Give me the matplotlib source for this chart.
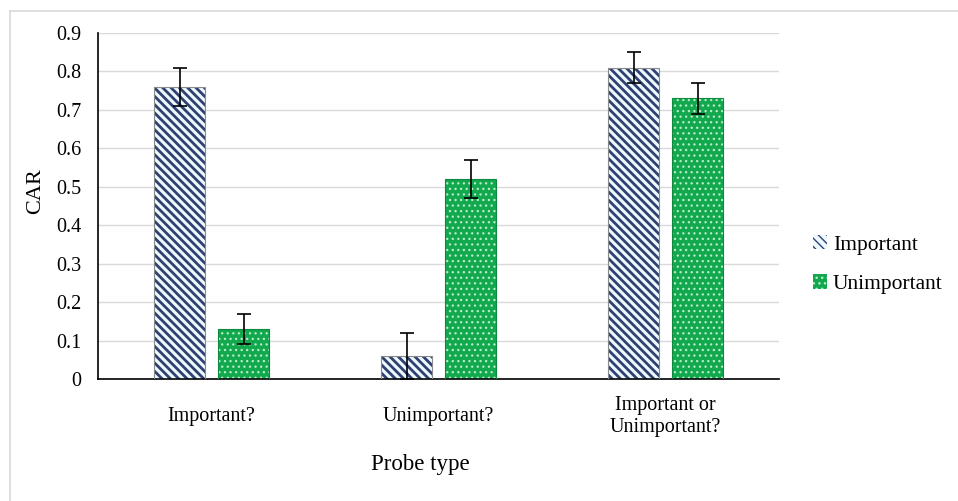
import matplotlib
matplotlib.use("Agg")
import matplotlib.pyplot as plt
import numpy as np
from matplotlib.lines import Line2D
from matplotlib.patches import Patch

plt.rcParams["font.family"] = ["Liberation Serif", "DejaVu Serif"]

categories = ["Important?", "Unimportant?", "Important or\nUnimportant?"]
series = ["Important", "Unimportant"]
important_vals = [0.76, 0.06, 0.81]
important_err = [0.05, 0.06, 0.04]
unimportant_vals = [0.13, 0.52, 0.73]
unimportant_err = [0.04, 0.05, 0.04]
y_ticks = [0, 0.1, 0.2, 0.3, 0.4, 0.5, 0.6, 0.7, 0.8, 0.9]

STRIPE = "#2f4170"
STRIPE_BG = "#eef8ff"
GREEN = "#12a84e"
DOT = "#b8ecc8"
STRIPE_HATCH = "\\\\\\\\"
DOT_HATCH = "..."

fig = plt.figure(figsize=(9.58, 5.01), dpi=100)
ax = fig.add_axes([0.1023, 0.2435, 0.7109, 0.6906])

x = np.arange(len(categories))
w = 0.225
off = 0.141

# hatched fill first, then a plain outline on top
with plt.rc_context({"hatch.linewidth": 2.0}):
    ax.bar(x - off, important_vals, w, color=STRIPE_BG, edgecolor=STRIPE,
           hatch=STRIPE_HATCH, linewidth=0, zorder=2)
    h_imp = Patch(facecolor=STRIPE_BG, edgecolor=STRIPE, hatch=STRIPE_HATCH, linewidth=0)
with plt.rc_context({"hatch.linewidth": 0.9}):
    ax.bar(x + off, unimportant_vals, w, color=GREEN, edgecolor=DOT,
           hatch=DOT_HATCH, linewidth=0, zorder=2)
    h_un = Patch(facecolor=GREEN, edgecolor=DOT, hatch=DOT_HATCH, linewidth=0)
ax.bar(x - off, important_vals, w, fill=False, edgecolor="#8a8a8a",
       linewidth=0.8, zorder=3)
ax.bar(x + off, unimportant_vals, w, fill=False, edgecolor="#0e8a40",
       linewidth=0.8, zorder=3)

ax.errorbar(x - off, important_vals, yerr=important_err, fmt="none",
            ecolor="black", elinewidth=1.2, capsize=5, capthick=1.2, zorder=4)
ax.errorbar(x + off, unimportant_vals, yerr=unimportant_err, fmt="none",
            ecolor="black", elinewidth=1.2, capsize=5, capthick=1.2, zorder=4)

ax.set_xlim(-0.5, len(categories) - 0.5)
ax.set_ylim(0, 0.9)
ax.set_yticks(y_ticks)
ax.set_yticklabels([f"{t:g}" for t in y_ticks])
ax.set_xticks(x)
ax.set_xticklabels(categories)
ax.yaxis.grid(True, color="#d9d9d9", linewidth=1)
ax.set_axisbelow(True)
ax.tick_params(axis="both", length=0, labelsize=14.5)
ax.tick_params(axis="y", pad=12)
ax.tick_params(axis="x", pad=27)
for lbl in ax.get_xticklabels():
    lbl.set_verticalalignment("center")
    lbl.set_linespacing(1.2)

for s in ["top", "right"]:
    ax.spines[s].set_visible(False)
ax.spines["left"].set_linewidth(1.2)
ax.spines["bottom"].set_linewidth(1.2)

ax.set_ylabel("CAR", fontsize=16, va="center")
ax.yaxis.set_label_coords(-0.091, 0.543)
ax.set_xlabel("Probe type", fontsize=16.5, va="center")
ax.xaxis.set_label_coords(0.473, -0.248)

fig.legend([h_imp, h_un], series, loc="center left", bbox_to_anchor=(0.840, 0.472),
           frameon=False, fontsize=15.5, handlelength=0.65, handleheight=0.65,
           handletextpad=0.25, labelspacing=0.9, borderaxespad=0)

# chart-area frame: only top and left edges fall inside the picture
fig.add_artist(Line2D([10 / 958, 1], [1 - 11 / 501] * 2, transform=fig.transFigure,
                      color="#d9d9d9", linewidth=1.2))
fig.add_artist(Line2D([10 / 958] * 2, [0, 1 - 11 / 501], transform=fig.transFigure,
                      color="#d9d9d9", linewidth=1.2))

fig.savefig("out.png", dpi=100)
